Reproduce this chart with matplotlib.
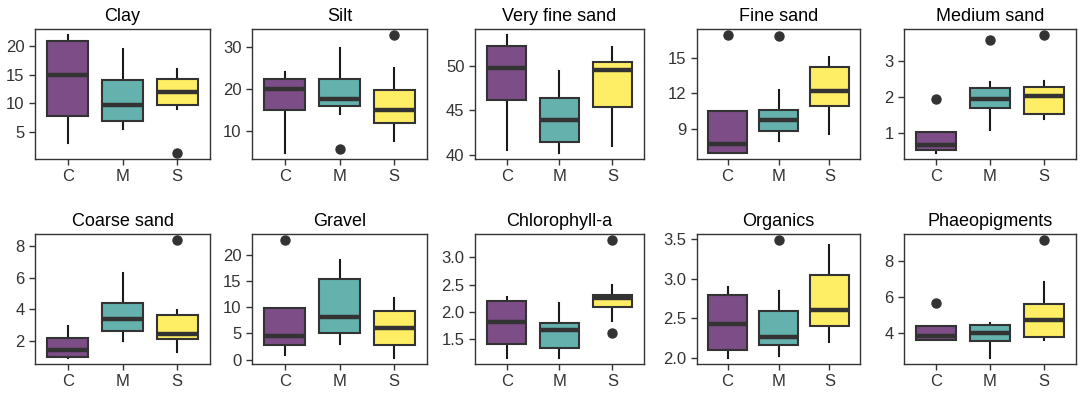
"""
Boxplots of sediment and pigment variables for the C, M and S sites.
"""

import matplotlib.pyplot as plt

plt.rcParams["font.family"] = ["Liberation Sans", "DejaVu Sans"]

groups = ["C", "M", "S"]
titles = [
    "Clay", "Silt", "Very fine sand", "Fine sand", "Medium sand",
    "Coarse sand", "Gravel", "Chlorophyll-a", "Organics", "Phaeopigments",
]

# summary stats per panel, one value per group (C, M, S)
whisk_lo = [
    [3.0, 5.5, 9.0], [4.7, 14.0, 7.5], [40.6, 40.2, 41.0], [6.9, 7.9, 8.5], [0.45, 1.08, 1.4],
    [0.9, 2.0, 1.3], [0.8, 3.0, 0.3], [1.15, 1.15, 1.84], [2.0, 2.03, 2.2], [3.6, 2.62, 3.6],
]
q1 = [
    [7.7, 6.8, 9.7], [14.9, 15.9, 11.9], [46.2, 41.5, 45.4], [6.95, 8.8, 10.9], [0.53, 1.7, 1.53],
    [1.0, 2.6, 2.1], [2.8, 5.1, 2.8], [1.4, 1.34, 2.08], [2.1, 2.16, 2.41], [3.65, 3.56, 3.78],
]
median = [
    [15.0, 9.6, 12.0], [20.0, 17.5, 15.0], [49.8, 43.9, 49.6], [7.7, 9.75, 12.2], [0.67, 1.95, 2.05],
    [1.42, 3.4, 2.45], [4.5, 8.1, 6.0], [1.82, 1.66, 2.25], [2.43, 2.27, 2.61], [3.85, 4.0, 4.76],
]
q3 = [
    [21.0, 14.0, 14.3], [22.2, 22.2, 19.8], [52.2, 46.4, 50.4], [10.5, 10.6, 14.3], [1.05, 2.25, 2.3],
    [2.17, 4.4, 3.62], [9.9, 15.3, 9.2], [2.2, 1.8, 2.31], [2.79, 2.6, 3.05], [4.43, 4.44, 5.63],
]
whisk_hi = [
    [22.0, 19.5, 16.0], [23.9, 29.8, 25.0], [53.5, 49.4, 52.1], [10.5, 12.3, 15.1], [1.05, 2.42, 2.46],
    [2.95, 6.3, 3.95], [9.9, 19.0, 11.8], [2.28, 2.17, 2.5], [2.89, 2.85, 3.42], [4.43, 4.6, 6.85],
]
outliers = [
    [[], [], [1.2]], [[], [5.7], [32.8]], [[], [], []], [[17.0], [16.9], []], [[1.96], [3.59], [3.74]],
    [[], [], [8.4]], [[22.8], [], []], [[], [], [3.32, 1.61]], [[], [3.49], []], [[5.7], [], [9.2]],
]
yticks = [
    [5, 10, 15, 20], [10, 20, 30], [40, 45, 50], [9, 12, 15], [1, 2, 3],
    [2, 4, 6, 8], [0, 5, 10, 15, 20], [1.5, 2.0, 2.5, 3.0], [2.0, 2.5, 3.0, 3.5], [4, 6, 8],
]
ytick_labels = [
    ["5", "10", "15", "20"], ["10", "20", "30"], ["40", "45", "50"], ["9", "12", "15"], ["1", "2", "3"],
    ["2", "4", "6", "8"], ["0", "5", "10", "15", "20"], ["1.5", "2.0", "2.5", "3.0"],
    ["2.0", "2.5", "3.0", "3.5"], ["4", "6", "8"],
]

colors = ["#7C4D87", "#64B1AE", "#FEEE66"]
dark = "#333333"

W, H = 1084, 394
fig = plt.figure(figsize=(W / 100, H / 100), dpi=100)

col_left = [35, 252, 475, 697, 904]
col_right = [210, 427, 644, 860, 1076]
row_top = [29, 234]
row_bottom = [159, 364]

for i, title in enumerate(titles):
    r, c = divmod(i, 5)
    ax = fig.add_axes([
        col_left[c] / W,
        1 - row_bottom[r] / H,
        (col_right[c] - col_left[c]) / W,
        (row_bottom[r] - row_top[r]) / H,
    ])
    stats = []
    for g in range(3):
        stats.append({
            "whislo": whisk_lo[i][g], "q1": q1[i][g], "med": median[i][g],
            "q3": q3[i][g], "whishi": whisk_hi[i][g], "fliers": outliers[i][g],
        })
    bp = ax.bxp(
        stats, positions=[1, 2, 3], widths=0.75, patch_artist=True,
        showcaps=False,
        boxprops=dict(edgecolor=dark, linewidth=1.5),
        medianprops=dict(color=dark, linewidth=3.2, solid_capstyle="butt"),
        whiskerprops=dict(color="#1a1a1a", linewidth=1.5),
        flierprops=dict(marker="o", markerfacecolor=dark, markeredgecolor=dark, markersize=6.5),
    )
    for patch, col in zip(bp["boxes"], colors):
        patch.set_facecolor(col)
    for w in bp["whiskers"]:
        w.set_zorder(1)
    ax.set_xlim(0.4, 3.6)
    ax.set_xticks([1, 2, 3])
    ax.set_xticklabels(groups)
    ax.set_yticks(yticks[i])
    ax.set_yticklabels(ytick_labels[i])
    ax.margins(y=0.05)
    ax.tick_params(labelsize=12, colors=dark, labelcolor="#333333", length=4, width=1)
    for s in ax.spines.values():
        s.set_color(dark)
        s.set_linewidth(1.0)
    ax.set_title(title, fontsize=13, color="black", pad=6)

fig.savefig("out.png", dpi=100)
